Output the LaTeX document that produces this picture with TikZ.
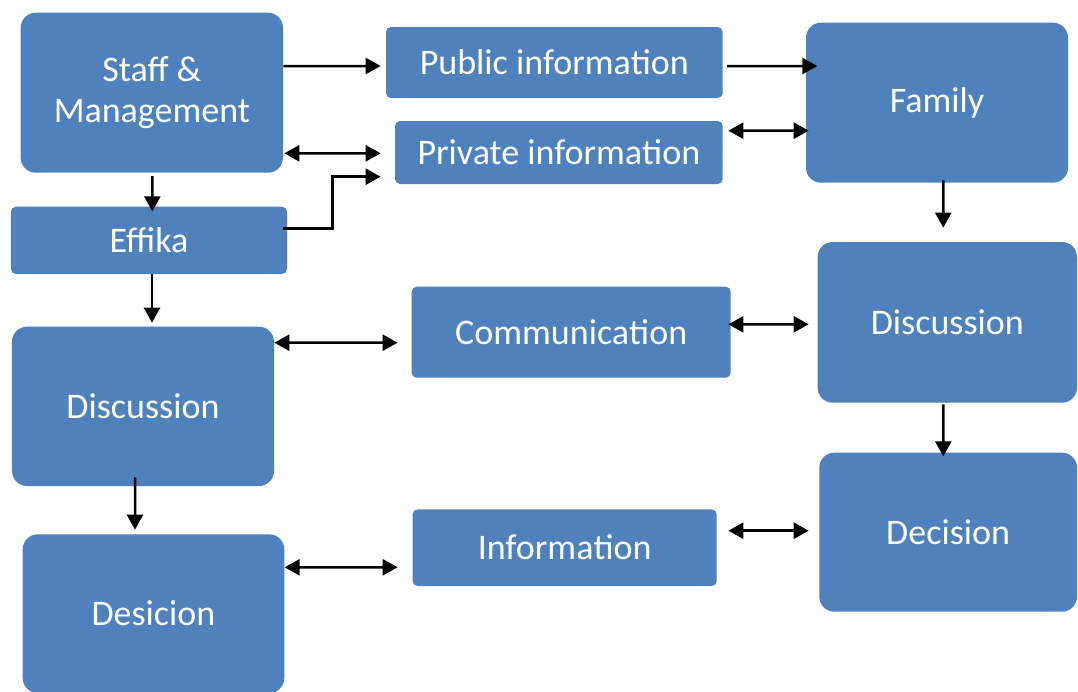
\documentclass[tikz,border=0pt]{standalone}
\usepackage{fontspec}
\setmainfont{Carlito}
\usepackage{tikz}
\usetikzlibrary{positioning, arrows.meta}
\definecolor{boxblue}{HTML}{4F81BD}
\newcommand{\brk}{\kern0pt}

\begin{document}
\begin{tikzpicture}[
        bigbox/.style={fill=boxblue, text=white, rounded corners=0.3cm, inner sep=0pt, align=center, font=\fontsize{20.5}{23.3}\selectfont},
        smallbox/.style={bigbox, rounded corners=0.1cm},
        arr/.style={-{Triangle[length=0.3cm, width=0.32cm]}, line width=0.05cm},
        darr/.style={{Triangle[length=0.3cm, width=0.32cm]}-{Triangle[length=0.3cm, width=0.32cm]}, line width=0.05cm}
    ]
        \useasboundingbox (0,0) rectangle (21.56,-13.82);

        \node [bigbox, minimum width=5.246cm, minimum height=3.2cm] (SM) at (3.037,-1.854) {Staff \&\\Management};
        \node [smallbox, minimum width=6.734cm, minimum height=1.42cm] (PubI) at (11.087,-1.25) {Public informa\brk tion};
        \node [bigbox, minimum width=5.24cm, minimum height=3.2cm] (Fam) at (18.74,-2.054) {Family};
        \node [smallbox, minimum width=6.554cm, minimum height=1.26cm] (PrivI) at (11.177,-3.05) {Private informa\brk tion};
        \node [smallbox, minimum width=5.52cm, minimum height=1.346cm] (Eff) at (2.98,-4.807) {Effika};
        \node [bigbox, minimum width=5.24cm, minimum height=3.186cm] (Dis1) at (2.86,-8.127) {Discussion};
        \node [smallbox, minimum width=6.38cm, minimum height=1.82cm] (Com) at (11.424,-6.644) {Communica\brk tion};
        \node [bigbox, minimum width=5.186cm, minimum height=3.214cm] (Dis2) at (18.947,-6.447) {Discussion};
        \node [bigbox, minimum width=5.232cm, minimum height=3.174cm] (Des1) at (3.07,-12.274) {Desicion};
        \node [smallbox, minimum width=6.08cm, minimum height=1.534cm] (Inf) at (11.294,-10.953) {Informa\brk tion};
        \node [bigbox, minimum width=5.154cm, minimum height=3.18cm] (Des2) at (18.963,-10.644) {Decision};

        \draw [arr] ([yshift=0.534cm]SM.east) -- ([xshift=-0.1cm, yshift=-0.07cm]PubI.west);
        \draw [arr] ([xshift=0.08cm, yshift=-0.07cm]PubI.east) -- ([xshift=0.234cm, yshift=0.734cm]Fam.west);
        \draw [darr] ([xshift=0.02cm, yshift=-1.212cm]SM.east) -- ([xshift=-0.28cm, yshift=-0.016cm]PrivI.west);
        \draw [darr] ([xshift=0.106cm, yshift=0.436cm]PrivI.east) -- ([xshift=0.06cm, yshift=-0.56cm]Fam.west);
        \draw [arr] ([xshift=0.01cm, yshift=-0.06cm]SM.south) -- ([xshift=0.066cm, yshift=-0.1cm]Eff.north);
        \draw [arr] ([xshift=-0.08cm, yshift=0.233cm]Eff.east) -- ++(0.98,0) |- ([xshift=-0.28cm, yshift=-0.484cm]PrivI.west);
        \draw [arr] ([xshift=0.06cm]Eff.south) -- ([xshift=0.18cm, yshift=0.074cm]Dis1.north);
        \draw [darr] ([yshift=1.273cm]Dis1.east) -- ([xshift=-0.274cm, yshift=-0.21cm]Com.west);
        \draw [darr] ([xshift=-0.054cm, yshift=0.158cm]Com.east) -- ([xshift=-0.174cm, yshift=-0.039cm]Dis2.west);
        \draw [arr] ([xshift=0.126cm, yshift=0.054cm]Fam.south) -- ([xshift=-0.081cm, yshift=0.28cm]Dis2.north);
        \draw [arr] ([xshift=-0.16cm, yshift=0.18cm]Dis1.south) -- ([xshift=-0.37cm, yshift=0.086cm]Des1.north);
        \draw [darr] ([yshift=0.928cm]Des1.east) -- ([xshift=-0.294cm, yshift=-0.393cm]Inf.west);
        \draw [darr] ([xshift=0.226cm, yshift=0.339cm]Inf.east) -- ([xshift=-0.206cm, yshift=0.03cm]Des2.west);
        \draw [arr] ([xshift=-0.081cm, yshift=-0.026cm]Dis2.south) -- ([xshift=-0.097cm, yshift=-0.08cm]Des2.north);
    \end{tikzpicture}
\end{document}
